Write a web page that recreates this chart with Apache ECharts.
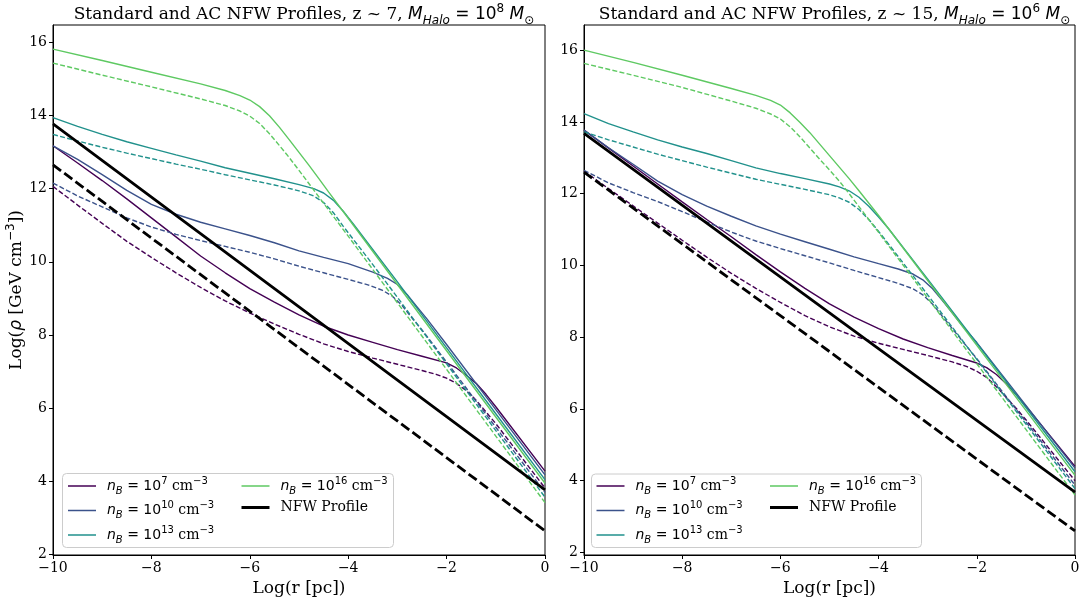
<!DOCTYPE html>
<html><head><meta charset="utf-8">
<script src="https://cdn.jsdelivr.net/npm/echarts@6/dist/echarts.min.js"></script>
<style>html,body{margin:0;padding:0;background:#fff}#c{width:1080px;height:602px}</style>
</head><body><div id="c"></div>
<script>
// ---------- DATA ----------
const xTicks = [-10, -8, -6, -4, -2, 0];
const yTicks = [2, 4, 6, 8, 10, 12, 14, 16];
const densityLabels = ['nB7', 'nB10', 'nB13', 'nB16'];
const densityExp = ['7', '10', '13', '16'];
const nfwLabel = 'NFW Profile';
const panelTitles = [
  {z: '7', mExp: '8'},
  {z: '15', mExp: '6'}
];

// Left panel (z ~ 7, M = 1e8)
const L_n7  = [[-10,13.17],[-9.5,12.7],[-9,12.22],[-8.5,11.72],[-8,11.2],[-7.5,10.68],[-7,10.16],[-6.5,9.7],[-6,9.27],[-5.5,8.9],[-5,8.55],[-4.5,8.24],[-4,8.0],[-3.5,7.8],[-3,7.6],[-2.5,7.42],[-2,7.24],[-1.8,7.1],[-1.6,6.9],[-1.4,6.68],[-1.2,6.38],[-1,6.04],[0,4.28]];
const L_n7d = [[-10,12.06],[-9.5,11.55],[-9,11.05],[-8.5,10.56],[-8,10.12],[-7.5,9.7],[-7,9.3],[-6.5,8.93],[-6,8.6],[-5.5,8.3],[-5,8.02],[-4.5,7.76],[-4,7.55],[-3.5,7.37],[-3,7.2],[-2.5,7.03],[-2.2,6.92],[-2,6.82],[-1.8,6.68],[-1.6,6.48],[-1.4,6.22],[-1.2,5.9],[-1,5.58],[0,3.82]];
const L_n10 = [[-10,13.17],[-9.5,12.8],[-9,12.38],[-8.5,11.95],[-8,11.57],[-7.5,11.3],[-7,11.08],[-6.5,10.9],[-6,10.72],[-5.5,10.52],[-5,10.3],[-4.5,10.12],[-4,9.95],[-3.5,9.72],[-3.2,9.55],[-3,9.38],[-2.8,9.1],[-2.6,8.77],[-2.4,8.44],[-2,7.74],[-1,5.96],[0,4.18]];
const L_n10d = [[-10,12.15],[-9.5,11.8],[-9,11.5],[-8.5,11.2],[-8,10.95],[-7.5,10.75],[-7,10.58],[-6.5,10.42],[-6,10.26],[-5.5,10.08],[-5,9.88],[-4.5,9.7],[-4,9.52],[-3.6,9.37],[-3.3,9.22],[-3.1,9.06],[-2.9,8.8],[-2.7,8.46],[-2.5,8.14],[-2,7.26],[-1,5.48],[0,3.7]];
const L_n13 = [[-10,13.94],[-9.5,13.7],[-9,13.48],[-8.5,13.28],[-8,13.1],[-7.5,12.92],[-7,12.75],[-6.5,12.57],[-6,12.42],[-5.5,12.27],[-5,12.11],[-4.7,12.0],[-4.5,11.88],[-4.3,11.68],[-4.1,11.38],[-3.9,11.04],[-3,9.45],[-2,7.65],[-1,5.85],[0,4.05]];
const L_n13d = [[-10,13.48],[-9.5,13.3],[-9,13.13],[-8.5,12.97],[-8,12.82],[-7.5,12.67],[-7,12.53],[-6.5,12.38],[-6,12.24],[-5.5,12.1],[-5,11.94],[-4.7,11.8],[-4.5,11.62],[-4.3,11.34],[-4.1,10.97],[-3.9,10.62],[-3.6,10.1],[-3,9.03],[-2,7.21],[-1,5.39],[0,3.57]];
const L_n16 = [[-10,15.81],[-9,15.5],[-8,15.18],[-7,14.86],[-6.5,14.68],[-6.2,14.54],[-6,14.42],[-5.8,14.24],[-5.6,13.99],[-5.4,13.68],[-5.2,13.34],[-5,12.99],[-4.8,12.64],[-4.6,12.28],[-4.4,11.91],[-4,11.19],[-3,9.38],[-2,7.57],[-1,5.76],[0,3.95]];
const L_n16d = [[-10,15.43],[-9,15.1],[-8,14.78],[-7,14.45],[-6.5,14.27],[-6.2,14.12],[-6,13.98],[-5.8,13.78],[-5.6,13.5],[-5.4,13.18],[-5.2,12.85],[-5,12.5],[-4.8,12.14],[-4.6,11.78],[-4.4,11.42],[-4,10.7],[-3,8.88],[-2,7.06],[-1,5.24],[0,3.42]];
const L_nfw  = [[-10,13.77],[-5,8.77],[0,3.77]];
const L_nfwd = [[-10,12.65],[-5,7.65],[0,2.65]];

// Right panel (z ~ 15, M = 1e6)
const R_n7  = [[-10,13.77],[-9.5,13.27],[-9,12.77],[-8.5,12.27],[-8,11.77],[-7.5,11.28],[-7,10.8],[-6.5,10.3],[-6,9.82],[-5.5,9.36],[-5,8.93],[-4.5,8.56],[-4,8.24],[-3.5,7.95],[-3,7.71],[-2.5,7.49],[-2,7.28],[-1.8,7.15],[-1.6,6.96],[-1.4,6.7],[-1.2,6.4],[-1,6.08],[0,4.4]];
const R_n7d = [[-10,12.63],[-9.5,12.14],[-9,11.66],[-8.5,11.18],[-8,10.7],[-7.5,10.23],[-7,9.78],[-6.5,9.36],[-6,8.97],[-5.5,8.6],[-5,8.29],[-4.5,8.03],[-4,7.83],[-3.5,7.66],[-3,7.49],[-2.5,7.31],[-2.2,7.18],[-2,7.05],[-1.8,6.88],[-1.6,6.62],[-1.4,6.32],[-1.2,6.02],[-1,5.7],[0,4.0]];
const R_n10 = [[-10,13.77],[-9.5,13.28],[-9,12.82],[-8.5,12.35],[-8,11.97],[-7.5,11.65],[-7,11.37],[-6.5,11.1],[-6,10.87],[-5.5,10.66],[-5,10.45],[-4.5,10.24],[-4,10.05],[-3.6,9.9],[-3.3,9.76],[-3.1,9.6],[-2.9,9.35],[-2.7,9.02],[-2.5,8.68],[-2.3,8.33],[-2,7.85],[-1,6.1],[0,4.35]];
const R_n10d = [[-10,12.65],[-9.5,12.3],[-9,12.03],[-8.5,11.78],[-8,11.5],[-7.5,11.21],[-7,10.93],[-6.5,10.68],[-6,10.47],[-5.5,10.27],[-5,10.07],[-4.5,9.86],[-4,9.66],[-3.6,9.5],[-3.3,9.35],[-3.1,9.18],[-2.9,8.92],[-2.7,8.58],[-2.5,8.24],[-2,7.4],[-1,5.64],[0,3.88]];
const R_n13 = [[-10,14.23],[-9.5,13.95],[-9,13.72],[-8.5,13.5],[-8,13.3],[-7.5,13.12],[-7,12.92],[-6.5,12.72],[-6,12.56],[-5.5,12.42],[-5,12.27],[-4.8,12.19],[-4.6,12.08],[-4.4,11.9],[-4.2,11.65],[-4,11.35],[-3.8,11.03],[-3,9.62],[-2,7.83],[-1,6.04],[0,4.25]];
const R_n13d = [[-10,13.72],[-9.5,13.5],[-9,13.3],[-8.5,13.1],[-8,12.92],[-7.5,12.74],[-7,12.57],[-6.5,12.4],[-6,12.26],[-5.5,12.12],[-5,11.97],[-4.8,11.88],[-4.6,11.76],[-4.4,11.56],[-4.2,11.28],[-4,10.95],[-3.8,10.6],[-3,9.18],[-2,7.38],[-1,5.58],[0,3.78]];
const R_n16 = [[-10,16.0],[-9,15.66],[-8,15.3],[-7,14.93],[-6.5,14.74],[-6.2,14.6],[-6,14.47],[-5.8,14.25],[-5.6,13.98],[-5.4,13.7],[-5.2,13.38],[-5,13.06],[-4.8,12.74],[-4.6,12.42],[-4.4,12.08],[-4,11.39],[-3,9.58],[-2,7.77],[-1,5.96],[0,4.15]];
const R_n16d = [[-10,15.63],[-9,15.3],[-8,14.96],[-7,14.58],[-6.5,14.38],[-6.2,14.22],[-6,14.08],[-5.8,13.86],[-5.6,13.58],[-5.4,13.27],[-5.2,12.96],[-5,12.66],[-4.8,12.35],[-4.6,12.0],[-4.4,11.64],[-4,10.92],[-3,9.09],[-2,7.26],[-1,5.43],[0,3.6]];
const R_nfw  = [[-10,13.68],[-5,8.68],[0,3.68]];
const R_nfwd = [[-10,12.6],[-5,7.6],[0,2.6]];

// ---------- STYLE / LAYOUT ----------
const COLORS = ['#440154', '#3b528b', '#21918c', '#5ec962'];
const SERIF = 'DejaVu Serif';
const SANS = 'DejaVu Sans';
const panels = [
  {grid: {left: 53, top: 25, width: 492, height: 530}, yMin: 1.99, yMax: 16.47,
   solids: [L_n7, L_n10, L_n13, L_n16], dashed: [L_n7d, L_n10d, L_n13d, L_n16d], nfw: L_nfw, nfwd: L_nfwd,
   legendCols: [68, 241.5], legendBox: [62.5, 473.5, 331, 74]},
  {grid: {left: 584, top: 25, width: 491, height: 530}, yMin: 1.93, yMax: 16.7,
   solids: [R_n7, R_n10, R_n13, R_n16], dashed: [R_n7d, R_n10d, R_n13d, R_n16d], nfw: R_nfw, nfwd: R_nfwd,
   legendCols: [596.5, 770], legendBox: [591.5, 474, 330, 73.5]}
];

const minus = v => (v < 0 ? '\u2212' + Math.abs(v) : String(v));

const tok = (family, size, lh, extra) => Object.assign({fontFamily: family, fontSize: size, lineHeight: lh, fontWeight: 'normal', color: '#000'}, extra || {});
const richLegend = {
  t: tok(SERIF, 14, 20),
  i: tok(SANS, 14, 20, {fontStyle: 'italic'}),
  m: tok(SANS, 14, 20),
  sub: tok(SANS, 10, 12, {fontStyle: 'italic', verticalAlign: 'bottom'}),
  sup: tok(SANS, 10, 11, {verticalAlign: 'top'})
};
const richTitle = {
  t: tok(SERIF, 17, 24),
  i: tok(SANS, 17, 24, {fontStyle: 'italic'}),
  m: tok(SANS, 17, 24),
  sub: tok(SANS, 12, 14, {fontStyle: 'italic', verticalAlign: 'bottom'}),
  subm: tok(SANS, 12, 14, {verticalAlign: 'bottom'}),
  sup: tok(SANS, 12, 12, {verticalAlign: 'top'})
};
const richAxis = {
  t: tok(SERIF, 17, 24),
  i: tok(SANS, 17, 24, {fontStyle: 'italic'}),
  sup: tok(SANS, 12, 12, {verticalAlign: 'top'})
};

const legendText = {};
densityLabels.forEach((n, k) => {
  legendText[n] = '{i|n}{sub|B}{m| = 10}{sup|' + densityExp[k] + '}{t| cm}{sup|\u22123}';
});
legendText[nfwLabel] = '{t|NFW Profile}';

const grids = [], xAxes = [], yAxes = [], series = [], titles = [], legends = [], graphics = [];

panels.forEach((p, pi) => {
  grids.push(Object.assign({show: true, borderColor: '#000', borderWidth: 1, containLabel: false, outerBoundsMode: 'none'}, p.grid));
  xAxes.push({
    type: 'value', gridIndex: pi, min: -10, max: 0, interval: 2,
    axisLine: {show: true, onZero: false, lineStyle: {color: '#000', width: 1}},
    axisTick: {show: true, length: 4, lineStyle: {color: '#000'}},
    axisLabel: {color: '#000', fontFamily: SERIF, fontSize: 14, margin: 6, formatter: minus},
    splitLine: {show: false},
    name: '{t|Log(r [pc])}', nameLocation: 'middle', nameGap: 20,
    nameTextStyle: {rich: richAxis}
  });
  const ya = {
    type: 'value', gridIndex: pi, min: p.yMin, max: p.yMax,
    axisLine: {show: true, onZero: false, lineStyle: {color: '#000', width: 1}},
    axisTick: {show: true, length: 4, lineStyle: {color: '#000'}, customValues: yTicks},
    axisLabel: {color: '#000', fontFamily: SERIF, fontSize: 14, margin: 6, customValues: yTicks, formatter: minus},
    splitLine: {show: false}
  };
  if (pi === 0) {
    ya.name = '{t|Log(}{i|\u03c1}{t| [GeV cm}{sup|\u22123}{t|])}';
    ya.nameLocation = 'middle';
    ya.nameGap = 17;
    ya.nameRotate = 90;
    ya.nameTextStyle = {rich: richAxis};
  }
  yAxes.push(ya);

  p.solids.forEach((d, k) => {
    series.push({type: 'line', name: densityLabels[k], xAxisIndex: pi, yAxisIndex: pi, data: d,
      symbol: 'none', smooth: false, z: 2, lineStyle: {color: COLORS[k], width: 1.4}, itemStyle: {color: COLORS[k]}});
  });
  p.dashed.forEach((d, k) => {
    series.push({type: 'line', name: densityLabels[k] + ' (dashed)', xAxisIndex: pi, yAxisIndex: pi, data: d,
      symbol: 'none', smooth: false, z: 2, lineStyle: {color: COLORS[k], width: 1.4, type: [5, 2.3]}, itemStyle: {color: COLORS[k]}});
  });
  series.push({type: 'line', name: nfwLabel, xAxisIndex: pi, yAxisIndex: pi, data: p.nfw,
    symbol: 'none', z: 3, lineStyle: {color: '#000', width: 2.8}, itemStyle: {color: '#000'}});
  series.push({type: 'line', name: nfwLabel + ' (dashed)', xAxisIndex: pi, yAxisIndex: pi, data: p.nfwd,
    symbol: 'none', z: 3, lineStyle: {color: '#000', width: 2.8, type: [10, 4]}, itemStyle: {color: '#000'}});

  const cx = p.grid.left + p.grid.width / 2;
  titles.push({
    left: cx, top: -2, textAlign: 'center',
    text: '{t|Standard and AC NFW Profiles, z ~ ' + panelTitles[pi].z + ', }{i|M}{sub|Halo}{m| = 10}{sup|' +
          panelTitles[pi].mExp + '}{m| }{i|M}{subm|\u2299}',
    textStyle: {fontWeight: 'normal', rich: richTitle}
  });

  const mkItem = (name, color, thick) => ({
    name: name,
    icon: thick ? 'path://M0 0H28V3H0Z' : 'path://M0 0H28V1.5H0Z',
    itemStyle: {color: color, borderWidth: 0}
  });
  const common = {orient: 'vertical', itemWidth: 28, itemHeight: 14, itemGap: 4.5, padding: 0,
    selectedMode: false, z: 6, formatter: n => legendText[n],
    textStyle: {rich: richLegend, padding: [0, 0, 0, 6]}};
  legends.push(Object.assign({}, common, {left: p.legendCols[0], top: 476,
    data: [mkItem('nB7', COLORS[0]), mkItem('nB10', COLORS[1]), mkItem('nB13', COLORS[2])]}));
  legends.push(Object.assign({}, common, {left: p.legendCols[1], top: 476,
    data: [mkItem('nB16', COLORS[3]), mkItem(nfwLabel, '#000', true)]}));

  const b = p.legendBox;
  graphics.push({type: 'rect', z: 5, shape: {x: b[0], y: b[1], width: b[2], height: b[3], r: 4},
    style: {fill: 'rgba(255,255,255,0.8)', stroke: '#cccccc', lineWidth: 1}});
});

const chart = echarts.init(document.getElementById('c'), null, {renderer: 'canvas'});
chart.setOption({
  animation: false,
  backgroundColor: '#fff',
  title: titles,
  grid: grids,
  xAxis: xAxes,
  yAxis: yAxes,
  legend: legends,
  graphic: graphics,
  series: series
});
</script>
</body></html>
